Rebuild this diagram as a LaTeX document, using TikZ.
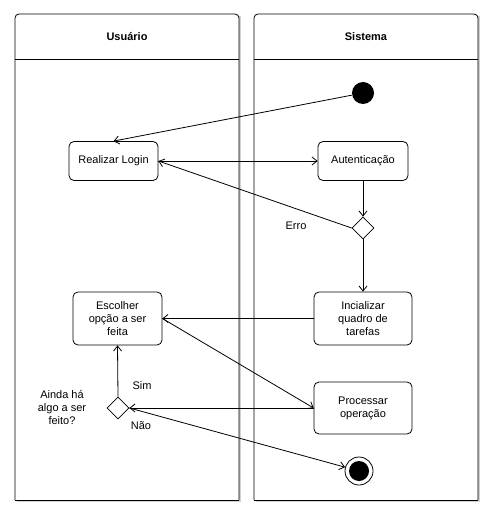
\documentclass[tikz,border=0pt]{standalone}
\usepackage{fontspec}
\setmainfont{Liberation Sans}
\usetikzlibrary{shapes.geometric,arrows.meta}
\begin{document}
\begin{tikzpicture}[x=1pt,y=-1pt,
  font=\fontsize{11}{13}\selectfont,
  line width=0.8pt,
  arr/.style={-{Straight Barb[length=5pt,width=8pt,line width=0.8pt]}},
  act/.style={draw,rounded corners=5pt,fill=white,align=center,inner sep=2pt},
  dec/.style={draw,diamond,fill=white,minimum width=22pt,minimum height=22pt,inner sep=0pt},
  lbl/.style={align=center,inner sep=0pt}]
\useasboundingbox (0,0) rectangle (494,518);
% lanes
\foreach \xa/\xb in {15/239,254/478}{
  \fill[black!18] (\xa+2,16) rectangle (\xb+2,502);
  \fill[white] (\xa,14) rectangle (\xb,500);
  \draw[rounded corners=4pt] (\xa,500) -- (\xa,14) -- (\xb,14) -- (\xb,500);
  \draw (\xa,500) -- (\xb,500);
  \draw (\xa,59) -- (\xb,59);
}
\node[font=\fontsize{11}{13}\selectfont\bfseries] (h1) at (127,37) {Usuário};
\node[font=\fontsize{11}{13}\selectfont\bfseries] (h2) at (366,37) {Sistema};
% nodes
\node[circle,fill=black,minimum size=22pt,inner sep=0pt] (start) at (363,93) {};
\node[act,minimum width=89pt,minimum height=39pt] (login) at (113.5,161) {Realizar Login};
\node[act,minimum width=90pt,minimum height=39pt] (auth) at (363,161) {Autenticação};
\node[dec] (d1) at (363,228) {};
\node[act,minimum width=98pt,minimum height=53pt] (init) at (363,318.5) {Incializar\\quadro de\\tarefas};
\node[act,minimum width=89pt,minimum height=53pt] (esc) at (117.5,318.5) {Escolher\\opção a ser\\feita};
\node[act,minimum width=98pt,minimum height=52pt] (proc) at (363,408) {Processar\\operação};
\node[dec] (d2) at (118,408) {};
\node[circle,draw,fill=white,minimum size=28pt,inner sep=0pt] (end) at (359,471) {};
\node[circle,fill=black,minimum size=20pt,inner sep=0pt] (endin) at (end.center) {};
% labels
\node[lbl] (erro) at (296,226) {Erro};
\node[lbl] (sim) at (142,386) {Sim};
\node[lbl] (nao) at (141,426) {Não};
\node[lbl] (q) at (62,407) {Ainda há\\algo a ser\\feito?};
% edges
\draw[arr] (start) -- (login.north);
\draw[arr] (login.east) -- (auth.west);
\draw[arr] (auth.south) -- (d1.north);
\draw[arr] (d1.west) -- (login.east);
\draw[arr] (d1.south) -- (init.north);
\draw[arr] (init.west) -- (esc.east);
\draw[arr] (esc.east) -- (proc.west);
\draw[arr] (proc.west) -- (d2.east);
\draw[arr] (d2.north) -- (esc.south);
\draw[arr] (d2.east) -- (end);
\end{tikzpicture}
\end{document}
